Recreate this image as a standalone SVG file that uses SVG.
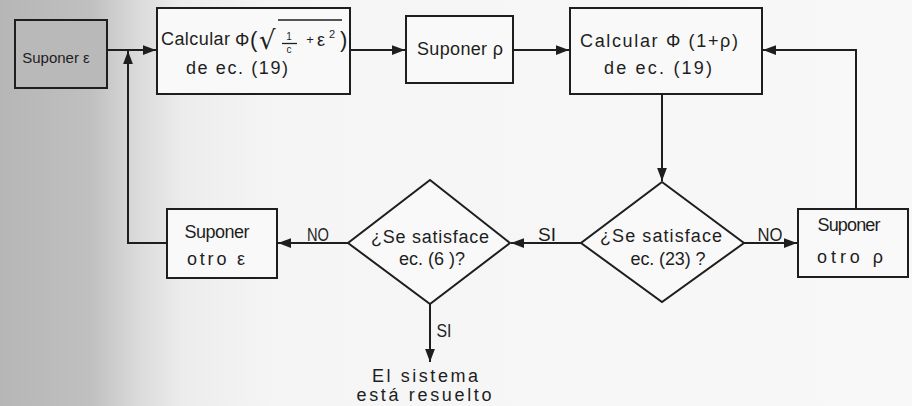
<svg xmlns="http://www.w3.org/2000/svg" width="912" height="406" viewBox="0 0 912 406">
<defs>
<linearGradient id="bg" gradientUnits="userSpaceOnUse" x1="0" y1="0" x2="912" y2="0">
<stop offset="0" stop-color="#b6b6b6"/>
<stop offset="0.1" stop-color="#c0c0c0"/>
<stop offset="0.15" stop-color="#dadada"/>
<stop offset="0.2" stop-color="#ececec"/>
<stop offset="0.3" stop-color="#f5f5f5"/>
<stop offset="1" stop-color="#f8f8f8"/>
</linearGradient>
<marker id="ah" viewBox="0 0 12 10" refX="12" refY="5" markerWidth="13" markerHeight="11" markerUnits="userSpaceOnUse" orient="auto">
<path d="M0,0.5 L12,5 L0,9.5 z" fill="#1e1e1e"/>
</marker>
<style>
.box{fill:#f9f9f9;stroke:#1e1e1e;stroke-width:2}
.gbox{fill:#b9b9b9;stroke:#1e1e1e;stroke-width:2}
.ln{fill:none;stroke:#1e1e1e;stroke-width:2}
.t{font-family:"Liberation Sans","DejaVu Sans",sans-serif;font-size:18px;fill:#1e1e1e;text-anchor:middle}
.st{text-anchor:start}
.s{font-size:10px}
</style>
</defs>
<rect x="0" y="0" width="912" height="406" fill="url(#bg)"/>
<g id="connectors">
<path class="ln" d="M107,50 H156"  marker-end="url(#ah)"/>
<path class="ln" d="M350,50 H405" marker-end="url(#ah)"/>
<path class="ln" d="M513,50 H569" marker-end="url(#ah)"/>
<path class="ln" d="M856,209 V50 H763" marker-end="url(#ah)"/>
<path class="ln" d="M662,94 V181" marker-end="url(#ah)"/>
<path class="ln" d="M744,243 H797" marker-end="url(#ah)"/>
<path class="ln" d="M581,243 H511" marker-end="url(#ah)"/>
<path class="ln" d="M348,243 H278" marker-end="url(#ah)"/>
<path class="ln" d="M167,243 H128 V51" marker-end="url(#ah)"/>
<path class="ln" d="M430,304 V362" marker-end="url(#ah)"/>
<text class="t" x="770" y="241" textLength="25" lengthAdjust="spacingAndGlyphs">NO</text>
<text class="t" x="547" y="241" textLength="18" lengthAdjust="spacingAndGlyphs">SI</text>
<text class="t" x="318" y="241" textLength="22" lengthAdjust="spacingAndGlyphs">NO</text>
<text class="t" x="444" y="337" textLength="15" lengthAdjust="spacingAndGlyphs">SI</text>
</g>
<g id="n-suponer-e">
<rect class="gbox" x="15" y="20" width="92" height="68"/>
<text class="t" x="56" y="63" style="font-size:15px">Suponer ε</text>
</g>
<g id="n-calcular-1">
<rect class="box" x="157" y="8" width="193" height="86"/>
<text class="t st" x="161" y="45" textLength="69" lengthAdjust="spacing">Calcular</text>
<text class="t st" x="235" y="46">Φ</text>
<text class="t st" x="250" y="47" style="font-size:22px">(</text>
<text class="t st" x="259" y="49" style="font-size:26px;font-family:'DejaVu Sans',sans-serif">√</text>
<path class="ln" style="stroke-width:1.6" d="M278,20 H342"/>
<text class="t s" x="289" y="40">1</text>
<path class="ln" style="stroke-width:1.3" d="M282,43.5 H297"/>
<text class="t s" x="289" y="53">c</text>
<text class="t" x="310" y="44" style="font-size:13px">+</text>
<text class="t st" x="317" y="46">ε</text>
<text class="t st" x="329" y="38" style="font-size:11px">2</text>
<text class="t st" x="340" y="47" style="font-size:22px">)</text>
<text class="t" x="237" y="74" textLength="102" lengthAdjust="spacing">de ec. (19)</text>
</g>
<g id="n-suponer-rho">
<rect class="box" x="406" y="16" width="107" height="67"/>
<text class="t" x="460" y="55" textLength="86" lengthAdjust="spacing">Suponer ρ</text>
</g>
<g id="n-calcular-2">
<rect class="box" x="570" y="8" width="192" height="86"/>
<text class="t" x="659" y="47" textLength="158" lengthAdjust="spacing">Calcular Φ (1+ρ)</text>
<text class="t" x="658" y="74" textLength="108" lengthAdjust="spacing">de ec. (19)</text>
</g>
<g id="n-eq23">
<path class="box" d="M662,182 L744,243 L662,302 L581,243 z"/>
<text class="t" x="661" y="242" textLength="122" lengthAdjust="spacing">¿Se satisface</text>
<text class="t" x="668" y="265" textLength="75" lengthAdjust="spacing">ec. (23) ?</text>
</g>
<g id="n-otro-rho">
<rect class="box" x="798" y="209" width="110" height="68"/>
<text class="t" x="849" y="231" textLength="63" lengthAdjust="spacing">Suponer</text>
<text class="t" x="850" y="263" textLength="66" lengthAdjust="spacing">otro ρ</text>
</g>
<g id="n-eq6">
<path class="box" d="M430,180 L510,243 L430,304 L348,243 z"/>
<text class="t" x="430" y="243" textLength="118" lengthAdjust="spacing">¿Se satisface</text>
<text class="t" x="432" y="265" textLength="66" lengthAdjust="spacing">ec. (6 )?</text>
</g>
<g id="n-otro-e">
<rect class="box" x="167" y="209" width="110" height="69"/>
<text class="t" x="217" y="238" textLength="65" lengthAdjust="spacing">Suponer</text>
<text class="t" x="216" y="265" textLength="58" lengthAdjust="spacing">otro ε</text>
</g>
<g id="n-resuelto">
<text class="t" x="425" y="382" textLength="106" lengthAdjust="spacing">El sistema</text>
<text class="t" x="424" y="401" textLength="135" lengthAdjust="spacing">está resuelto</text>
</g>
</svg>
